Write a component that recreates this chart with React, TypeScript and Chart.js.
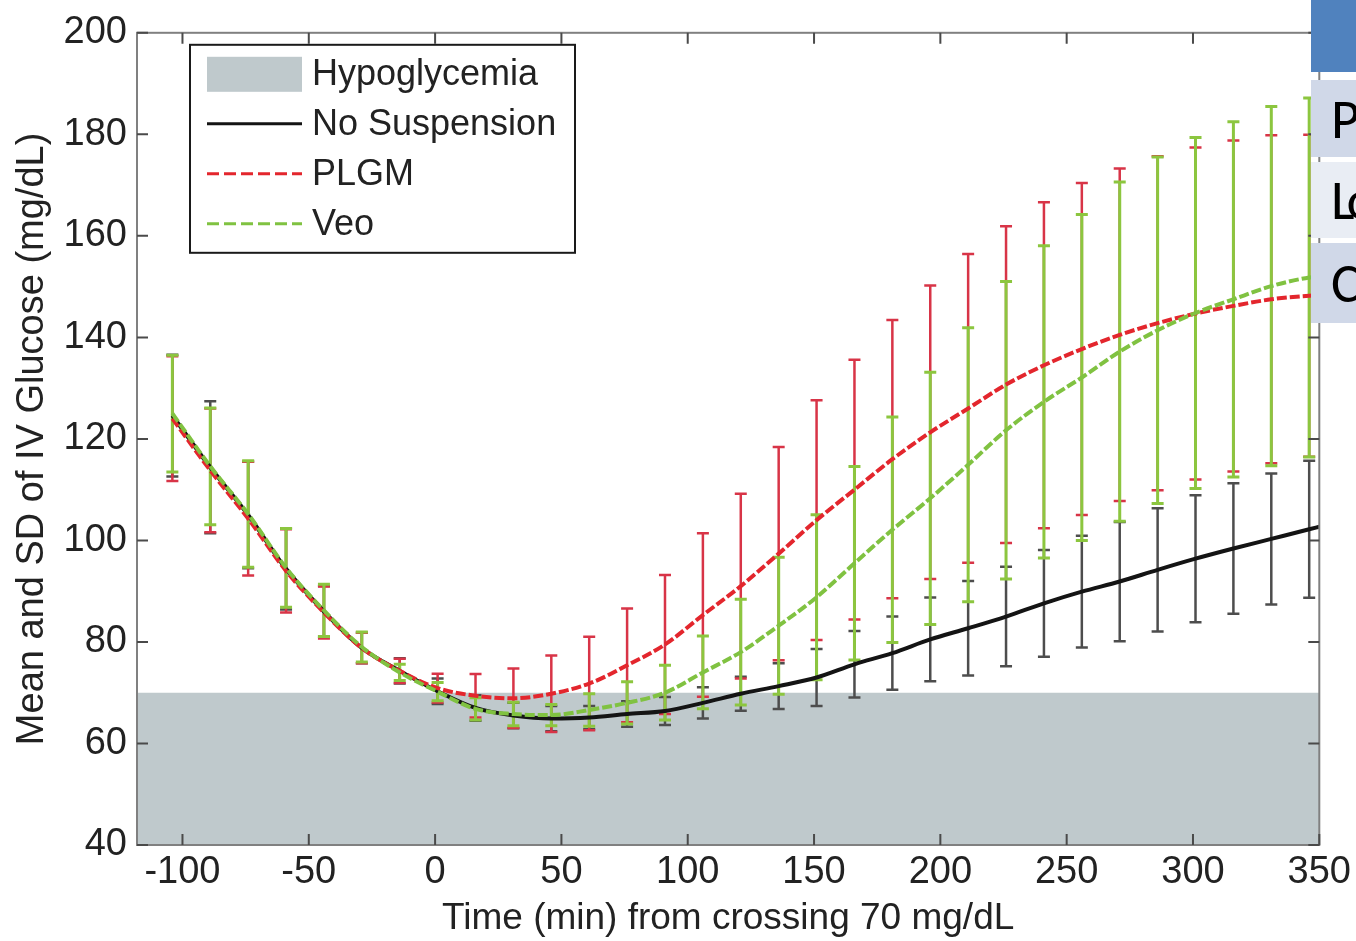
import React, { useEffect, useRef } from "react";
import { Chart, registerables } from "chart.js";

Chart.register(...registerables);

// ---------- data ----------
const barTimes = [-104, -89, -74, -59, -44, -29, -14, 1, 16, 31, 46, 61, 76, 91, 106, 121, 136, 151, 166, 181, 196, 211, 226, 241, 256, 271, 286, 301, 316, 331, 346];
const lineTimes = [...barTimes, 350];

const noSuspMean = [124.6, 114.4, 105.0, 94.4, 86.0, 78.8, 74.3, 70.3, 67.0, 65.5, 64.9, 65.1, 65.8, 66.4, 68.0, 69.8, 71.3, 73.0, 75.6, 77.8, 80.5, 82.7, 85.0, 87.6, 89.9, 91.9, 94.2, 96.4, 98.4, 100.3, 102.2, 102.7];
const plgmMean = [124.0, 113.8, 104.3, 94.0, 85.8, 78.8, 74.3, 70.9, 69.4, 68.9, 69.8, 71.8, 75.4, 79.5, 85.3, 91.0, 97.4, 104.0, 110.0, 116.0, 121.3, 126.0, 130.7, 134.5, 137.7, 140.5, 142.8, 144.7, 146.2, 147.5, 148.2, 148.3];
const veoMean = [125.0, 114.6, 105.2, 94.6, 86.2, 79.0, 74.0, 70.2, 66.8, 65.8, 65.6, 66.6, 68.0, 70.0, 74.0, 78.0, 83.2, 88.8, 95.5, 102.1, 108.3, 114.9, 121.7, 127.3, 132.1, 137.2, 141.4, 144.8, 147.5, 150.1, 151.8, 152.0];

const noSuspSD = [12, 13, 10.5, 8, 5, 3, 2.5, 2.5, 2.5, 2.5, 2.5, 2.3, 2.5, 2.75, 3.1, 3.35, 4.5, 5.6, 6.55, 7.2, 8.25, 9.3, 9.8, 10.5, 11.0, 11.75, 12.15, 12.5, 12.85, 12.9, 13.5];
const plgmSD = [12.3, 12.2, 11.2, 8.2, 5.1, 3.0, 2.4, 2.85, 4.3, 5.85, 7.55, 9.2, 11.2, 13.7, 16.1, 18.2, 21.0, 23.6, 25.6, 27.4, 28.9, 30.4, 31.2, 32.1, 32.7, 32.75, 32.9, 32.7, 32.6, 32.3, 31.7];
const veoSD = [11.5, 11.5, 10.5, 7.75, 5.15, 2.95, 1.6, 1.8, 2.2, 2.3, 2.1, 3.2, 4.15, 5.4, 7.15, 10.4, 13.5, 16.25, 19.05, 22.2, 24.85, 27.0, 29.3, 30.75, 32.1, 33.4, 34.15, 34.55, 35.0, 35.4, 35.35];

const xTicks = [-100, -50, 0, 50, 100, 150, 200, 250, 300, 350];
const yTicks = [40, 60, 80, 100, 120, 140, 160, 180, 200];
const xRange = [-118, 350];
const yRange = [40, 200];
const hypoLimit = 70;

const legendLabels = ["Hypoglycemia", "No Suspension", "PLGM", "Veo"];
const tableLabels = ["P", "Lo", "C"];

// ---------- styles ----------
const FONT = "'Liberation Sans', Arial, Helvetica, sans-serif";
const BAND = "#bfc9cc";
const BLACK = "#141414";
const RED = "#e3262d";
const GREEN = "#80c241";
const TEXT = "#222222";

export default function App() {
  const ref = useRef<HTMLCanvasElement>(null);

  useEffect(() => {
    const canvas = ref.current!;
    const series = [
      { mean: noSuspMean, sd: noSuspSD, color: "#4d4d4d", width: 2.5 },
      { mean: plgmMean, sd: plgmSD, color: "#d83447", width: 2.5 },
      { mean: veoMean, sd: veoSD, color: "#8cc63f", width: 3 },
    ];

    const errorBars = {
      id: "errorBars",
      afterDatasetDraw(chart: any, args: any) {
        if (args.index !== 0) return;
        const { ctx, scales } = chart;
        const xs = scales.x;
        const ys = scales.y;
        ctx.save();
        for (const s of series) {
          ctx.strokeStyle = s.color;
          ctx.lineWidth = s.width;
          for (let i = 0; i < barTimes.length; i++) {
            const px = xs.getPixelForValue(barTimes[i]);
            const top = ys.getPixelForValue(s.mean[i] + s.sd[i]);
            const bot = ys.getPixelForValue(s.mean[i] - s.sd[i]);
            ctx.beginPath();
            ctx.moveTo(px, top);
            ctx.lineTo(px, bot);
            ctx.moveTo(px - 6, top);
            ctx.lineTo(px + 6, top);
            ctx.moveTo(px - 6, bot);
            ctx.lineTo(px + 6, bot);
            ctx.stroke();
          }
        }
        ctx.restore();
      },
    };

    const frame = {
      id: "frame",
      afterDatasetsDraw(chart: any) {
        const { ctx, chartArea: a, scales } = chart;
        ctx.save();
        ctx.strokeStyle = "#808080";
        ctx.lineWidth = 2;
        ctx.strokeRect(a.left, a.top, a.right - a.left, a.bottom - a.top);
        ctx.strokeStyle = "#4a4a4a";
        ctx.lineWidth = 2;
        const tl = 11;
        ctx.beginPath();
        for (const v of xTicks) {
          const px = scales.x.getPixelForValue(v);
          ctx.moveTo(px, a.top);
          ctx.lineTo(px, a.top + tl);
          ctx.moveTo(px, a.bottom);
          ctx.lineTo(px, a.bottom - tl);
        }
        for (const v of yTicks) {
          const py = scales.y.getPixelForValue(v);
          ctx.moveTo(a.left, py);
          ctx.lineTo(a.left + tl, py);
          ctx.moveTo(a.right, py);
          ctx.lineTo(a.right - tl, py);
        }
        ctx.stroke();
        ctx.restore();
      },
    };

    const legend = {
      id: "customLegend",
      afterDraw(chart: any) {
        const { ctx, chartArea: a } = chart;
        const bx = a.left + 53;
        const by = a.top + 12;
        const bw = 385;
        const bh = 208;
        ctx.save();
        ctx.fillStyle = "#ffffff";
        ctx.fillRect(bx, by, bw, bh);
        ctx.strokeStyle = "#1a1a1a";
        ctx.lineWidth = 2;
        ctx.strokeRect(bx, by, bw, bh);
        const sx = bx + 17;
        const sw = 95;
        const tx = bx + 122;
        const rows = [by + 29, by + 79, by + 129, by + 179];
        ctx.fillStyle = BAND;
        ctx.fillRect(sx, rows[0] - 17, sw, 35);
        const lines = [
          { c: BLACK, d: [] as number[] },
          { c: RED, d: [12, 5] },
          { c: GREEN, d: [12, 5] },
        ];
        lines.forEach((l, i) => {
          ctx.strokeStyle = l.c;
          ctx.lineWidth = 3;
          ctx.setLineDash(l.d);
          ctx.beginPath();
          ctx.moveTo(sx, rows[i + 1]);
          ctx.lineTo(sx + sw, rows[i + 1]);
          ctx.stroke();
        });
        ctx.setLineDash([]);
        ctx.fillStyle = TEXT;
        ctx.font = `36px ${FONT}`;
        ctx.textBaseline = "middle";
        ctx.textAlign = "left";
        legendLabels.forEach((t, i) => ctx.fillText(t, tx, rows[i] + 1));
        ctx.restore();
      },
    };

    const mk = (mean: number[]) => lineTimes.map((t, i) => ({ x: t, y: mean[i] }));

    const chart = new Chart(canvas, {
      type: "line",
      data: {
        datasets: [
          {
            label: "Hypoglycemia",
            data: [
              { x: xRange[0], y: hypoLimit },
              { x: xRange[1], y: hypoLimit },
            ],
            fill: "start",
            backgroundColor: BAND,
            borderWidth: 0,
            pointRadius: 0,
            order: 10,
          },
          {
            label: "No Suspension",
            data: mk(noSuspMean),
            borderColor: BLACK,
            borderWidth: 4,
            pointRadius: 0,
            fill: false,
            cubicInterpolationMode: "monotone",
            order: 3,
          },
          {
            label: "PLGM",
            data: mk(plgmMean),
            borderColor: RED,
            borderWidth: 4,
            borderDash: [10, 3],
            pointRadius: 0,
            fill: false,
            cubicInterpolationMode: "monotone",
            order: 2,
          },
          {
            label: "Veo",
            data: mk(veoMean),
            borderColor: GREEN,
            borderWidth: 4,
            borderDash: [10, 3],
            pointRadius: 0,
            fill: false,
            cubicInterpolationMode: "monotone",
            order: 1,
          },
        ],
      } as any,
      options: {
        responsive: false,
        animation: false,
        layout: { padding: { left: 0, right: 36, top: 30, bottom: 0 } },
        plugins: {
          legend: { display: false },
          tooltip: { enabled: false },
        },
        scales: {
          x: {
            type: "linear",
            min: xRange[0],
            max: xRange[1],
            afterBuildTicks: (s: any) => {
              s.ticks = xTicks.map((v) => ({ value: v }));
            },
            afterFit: (s: any) => {
              s.height = 96;
            },
            grid: { display: false, drawTicks: false },
            border: { display: false },
            ticks: {
              font: { family: FONT, size: 38 },
              color: TEXT,
              padding: 5,
              maxRotation: 0,
              autoSkip: false,
            },
            title: {
              display: true,
              text: "Time (min) from crossing 70 mg/dL",
              font: { family: FONT, size: 37 },
              color: TEXT,
              padding: { bottom: 0, top: 0 },
            },
          },
          y: {
            type: "linear",
            min: yRange[0],
            max: yRange[1],
            afterBuildTicks: (s: any) => {
              s.ticks = yTicks.map((v) => ({ value: v }));
            },
            afterFit: (s: any) => {
              s.width = 137;
            },
            grid: { display: false, drawTicks: false },
            border: { display: false },
            ticks: {
              font: { family: FONT, size: 38 },
              color: TEXT,
              padding: 10,
            },
            title: {
              display: true,
              text: "Mean and SD of IV Glucose (mg/dL)",
              font: { family: FONT, size: 38 },
              color: TEXT,
              padding: { top: 10, bottom: 0 },
            },
          },
        },
      } as any,
      plugins: [errorBars, frame, legend],
    });
    return () => chart.destroy();
  }, []);

  const cellBase: React.CSSProperties = {
    position: "absolute",
    left: 1311,
    width: 120,
    boxSizing: "border-box",
    paddingLeft: 20,
    display: "flex",
    alignItems: "center",
    fontFamily: "Carlito, 'Liberation Sans', Arial, sans-serif",
    fontSize: 56,
    color: "#000",
    whiteSpace: "nowrap",
  };

  return (
    <div
      style={{
        position: "absolute",
        left: 0,
        top: 0,
        width: 1356,
        height: 941,
        overflow: "hidden",
        background: "#fff",
      }}
    >
      <canvas ref={ref} width={1356} height={941} style={{ display: "block" }} />
      <div style={{ ...cellBase, top: 0, height: 72, background: "#5082be" }} />
      <div style={{ ...cellBase, top: 80, height: 77, background: "#d0d8e8" }}>{tableLabels[0]}</div>
      <div style={{ ...cellBase, top: 162, height: 76, background: "#e9edf4", letterSpacing: -8 }}>{tableLabels[1]}</div>
      <div style={{ ...cellBase, top: 243, height: 80, background: "#d0d8e8" }}>{tableLabels[2]}</div>
    </div>
  );
}
